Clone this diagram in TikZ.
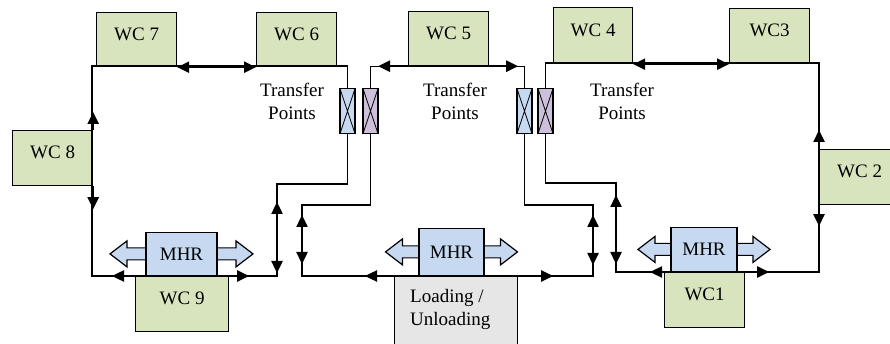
\documentclass[tikz,border=0pt]{standalone}
\usepackage{fontspec}
\setmainfont{Liberation Serif}
\usetikzlibrary{arrows.meta,calc,backgrounds}
\definecolor{wcgreen}{HTML}{D7E4BD}
\definecolor{mhrblue}{HTML}{C6D9F1}
\definecolor{tpblue}{HTML}{C6D9F1}
\definecolor{tppurple}{HTML}{CCC0DA}
\definecolor{loadgray}{HTML}{E6E6E6}
% block double arrow behind a handler box: #1 = node, #2 = half length
\newcommand\mhrarrow[2]{%
  \draw[blockarrow] ($(#1.center)+(-#2,0)$) -- ++(17,-13) -- ++(0,7)
    -- ++({2*#2-34},0) -- ++(0,-7) -- ++(17,13) -- ++(-17,13) -- ++(0,-7)
    -- ++({-(2*#2-34)},0) -- ++(0,7) -- cycle;}
\begin{document}
\begin{tikzpicture}[x=1pt,y=-1pt,
  font=\fontsize{19}{23}\selectfont,
  >={Triangle[length=12pt,width=11pt]},
  track/.style={line width=1.2pt},
  flow/.style={line width=2.4pt},
  wcbox/.style={draw, line width=1.2pt, fill=wcgreen, inner sep=0pt,
    text height=13pt, text depth=12pt, minimum width=80pt,
    minimum height=54pt, anchor=north west},
  mhrbox/.style={draw, line width=1.2pt, fill=mhrblue, inner sep=0pt,
    anchor=south},
  blockarrow/.style={draw, line width=1.2pt, fill=mhrblue},
  tpbox/.style={draw, line width=1.2pt, minimum width=15pt,
    minimum height=45pt, inner sep=0pt, anchor=north,
    path picture={\draw[line width=0.8pt]
      (path picture bounding box.north west) -- (path picture bounding box.south east)
      (path picture bounding box.north east) -- (path picture bounding box.south west);}},
  note/.style={align=center, inner sep=0pt}
]
\useasboundingbox (0,0) rectangle (890,344);

% work centres
\node[wcbox] (wc7) at (96,12) {WC 7};
\node[wcbox] (wc6) at (256,12) {WC 6};
\node[wcbox] (wc5) at (408,11) {WC 5};
\node[wcbox, minimum width=79pt, minimum height=56pt] (wc4) at (553,7) {WC 4};
\node[wcbox, minimum height=55pt] (wc3) at (729,8) {WC3};
\node[wcbox, minimum height=55pt] (wc2) at (819,149) {WC 2};
\node[wcbox, minimum height=55pt] (wc8) at (12,130) {WC 8};
\node[wcbox, minimum width=93pt, minimum height=55pt] (wc9) at (135,276) {WC 9};
\node[wcbox, minimum height=55pt] (wc1) at (664,272) {WC1};

% loading / unloading station
\node[draw, line width=1.2pt, fill=loadgray, anchor=north west,
  minimum width=123pt, minimum height=80pt] (load) at (394,276) {};
\node[align=left, inner sep=0pt, anchor=north west] (loadtxt) at (410,289)
  {Loading /\\Unloading};

% material handling robots
\node[mhrbox, minimum width=71pt, minimum height=43pt] (mhr1) at (181.5,276) {MHR};
\node[mhrbox, minimum width=65pt, minimum height=47pt] (mhr2) at (451.5,276) {MHR};
\node[mhrbox, minimum width=66pt, minimum height=44pt] (mhr3) at (704,272) {MHR};
\begin{scope}[on background layer]
  \mhrarrow{mhr1}{71.5}
  \mhrarrow{mhr2}{66}
  \mhrarrow{mhr3}{66}
\end{scope}

% transfer points
\node[tpbox, fill=tpblue] (tb1) at (347.5,88) {};
\node[tpbox, fill=tppurple] (tp1) at (370.5,88) {};
\node[tpbox, fill=tpblue] (tb2) at (524.5,88) {};
\node[tpbox, fill=tppurple] (tp2) at (545.5,88) {};
\node[note] (tt1) at (292,101) {Transfer\\Points};
\node[note] (tt2) at (455,101) {Transfer\\Points};
\node[note] (tt3) at (622,101) {Transfer\\Points};

% track corners
\coordinate (lt) at (92,66);
\coordinate (lb) at (92,276);
\coordinate (lr) at (277,276);
\coordinate (lj) at (277,184);
\coordinate (mlj) at (302,205);
\coordinate (ml) at (302,276);
\coordinate (mr) at (593,276);
\coordinate (mrj) at (593,205);
\coordinate (rt) at (819,63);
\coordinate (rb) at (819,272);
\coordinate (rl) at (616,272);
\coordinate (rlj) at (616,183);

% tracks
\draw[track] (tb1.north) |- (lt) -- (lb) -- (lr) -- (lj) -| (tb1.south);
\draw[track] (tp1.north) |- (wc5.south) -| (tb2.north);
\draw[track] (tp1.south) |- (mlj) -- (ml) -- (mr) -- (mrj) -| (tb2.south);
\draw[track] (tp2.north) |- (rt) -- (rb) -- (rl) -- (rlj) -| (tp2.south);

% movement arrows
\draw[flow, <->] (wc7.south east) -- (wc6.south west);
\draw[flow, ->] (wc8.north east) -- ++(0,-18);
\draw[flow, ->] (wc8.south east) -- ++(0,23);
\draw[flow, ->] (wc9.north west) -- ++(-23,0);
\draw[flow, ->] (wc9.north east) -- ++(20,0);
\draw[flow, <->] ($(lj)+(0,18)$) -- ($(lr)+(0,-3)$);
\draw[flow, <->] ($(mlj)+(0,10)$) -- ($(ml)+(0,-12)$);
\draw[flow, <->] ($(mrj)+(0,10)$) -- ($(mr)+(0,-11)$);
\draw[flow, <->] ($(rlj)+(0,12)$) -- ($(rl)+(0,-8)$);
\draw[flow, ->] (wc5.south west) -- ++(-30,0);
\draw[flow, ->] (wc5.south east) -- ++(29,0);
\draw[flow, ->] (load.north west) -- ++(-29,0);
\draw[flow, ->] (load.north east) -- ++(35,0);
\draw[flow, <->] (wc4.south east) -- (wc3.south west);
\draw[flow, ->] (wc2.north west) -- ++(0,-19);
\draw[flow, ->] (wc2.south west) -- ++(0,21);
\draw[flow, ->] (wc1.north west) -- ++(-14,0);
\draw[flow, ->] (wc1.north east) -- ++(24,0);
\end{tikzpicture}
\end{document}
